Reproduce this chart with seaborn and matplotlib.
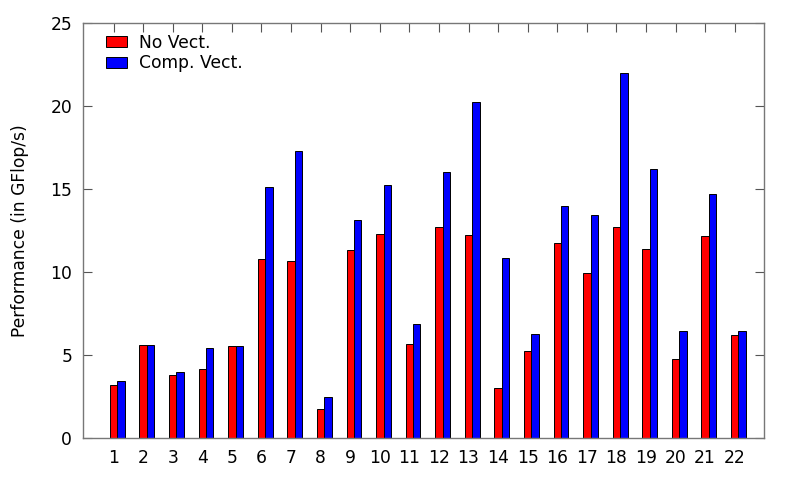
import matplotlib
matplotlib.use("Agg")
import matplotlib.pyplot as plt
import numpy as np
import pandas as pd
import seaborn as sns

# Benchmarks 1..22
kernels = [str(i) for i in range(1, 23)]

# Performance in GFlop/s
no_vect = [3.16, 5.57, 3.76, 4.12, 5.55, 10.80, 10.68, 1.71, 11.30, 12.29, 5.65,
           12.69, 12.23, 3.02, 5.25, 11.73, 9.93, 12.73, 11.38, 4.73, 12.17, 6.19]
comp_vect = [3.44, 5.57, 3.94, 5.39, 5.55, 15.14, 17.29, 2.47, 13.15, 15.22, 6.88,
             16.04, 20.23, 10.82, 6.27, 13.99, 13.41, 21.98, 16.22, 6.45, 14.70, 6.45]
series_names = ["No Vect.", "Comp. Vect."]
colors = ["#ff0000", "#0000ff"]

df = pd.DataFrame({
    "kernel": kernels * 2,
    "perf": no_vect + comp_vect,
    "version": [series_names[0]] * len(kernels) + [series_names[1]] * len(kernels),
})

sns.set_style("white")
plt.rcParams["font.family"] = ["DejaVu Sans"]
plt.rcParams["text.color"] = "black"
plt.rcParams["axes.labelcolor"] = "black"
plt.rcParams["xtick.color"] = "black"
plt.rcParams["ytick.color"] = "black"

fig = plt.figure(figsize=(7.97, 4.78), dpi=100)
ax = fig.add_axes([0.1045, 0.0843, 0.8545, 0.867])

sns.barplot(data=df, x="kernel", y="perf", hue="version", order=kernels,
            hue_order=series_names, palette=colors, width=0.5, gap=0,
            edgecolor="black", linewidth=0.7, saturation=1, ax=ax)

# gnuplot-style: tick sits on the first bar of each cluster
pos = np.arange(len(kernels)) - 0.125
ax.set_xticks(pos, kernels)
ax.set_xlim(-1.15, 21.875)
ax.set_ylim(0, 25)
ax.set_yticks([0, 5, 10, 15, 20, 25])

ax.tick_params(axis="both", direction="in", length=6.5, width=0.8, color="#555555",
               labelcolor="black", labelsize=12.3, top=True, right=True,
               bottom=True, left=True, pad=8)
for sp in ax.spines.values():
    sp.set_color("#777777")
    sp.set_linewidth(1)

ax.set_xlabel("")
ax.set_ylabel("Performance (in GFlop/s)", fontsize=12.3, labelpad=15)

ax.legend(loc="upper left", bbox_to_anchor=(0.008, 1.016), frameon=False,
          fontsize=12.3, handlelength=1.25, handleheight=0.6,
          labelspacing=0.15, handletextpad=0.7, borderaxespad=0.6)

fig.savefig("out.png", dpi=100)
